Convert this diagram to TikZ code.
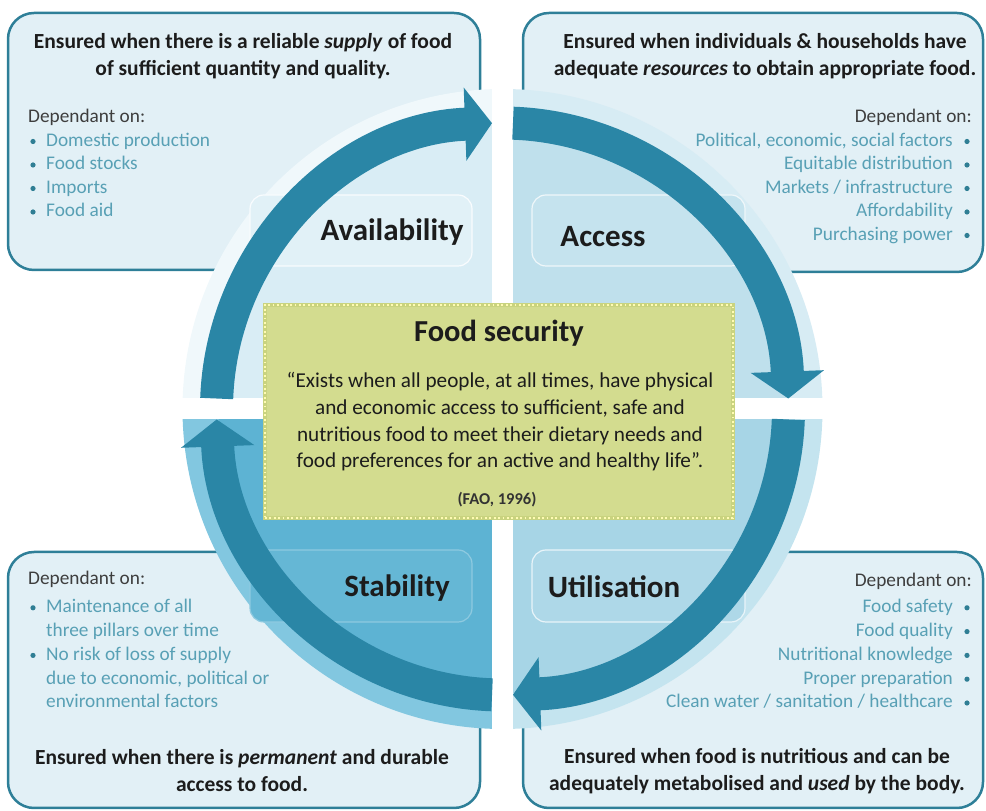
\documentclass[tikz,border=0pt]{standalone}
\usepackage{fontspec}
\setmainfont{Carlito}
\usetikzlibrary{arrows.meta}

\definecolor{boxfill}{HTML}{E2F0F6}
\definecolor{boxline}{HTML}{2E7F98}
\definecolor{ringc}{HTML}{2A86A6}
\definecolor{itemc}{HTML}{58A0B5}
\definecolor{dotc}{HTML}{2F7E94}
\definecolor{txtc}{HTML}{1C1C1C}
\definecolor{quadA}{HTML}{D9EDF5}
\definecolor{haloA}{HTML}{F0F8FB}
\definecolor{quadB}{HTML}{BFE0EC}
\definecolor{haloB}{HTML}{D7ECF4}
\definecolor{quadC}{HTML}{A7D5E6}
\definecolor{haloC}{HTML}{C4E4EF}
\definecolor{quadD}{HTML}{5DB3D3}
\definecolor{haloD}{HTML}{82C7E0}
\definecolor{fsgreen}{HTML}{D3DC8F}
\definecolor{fsedge}{HTML}{C9D37F}

\begin{document}
\begin{tikzpicture}[x=1pt, y=1pt,
  pillarbox/.style={draw=boxline, line width=2.5pt, fill=boxfill, rounded corners=26pt},
  heading/.style={font=\fontsize{21.5}{27}\selectfont\bfseries, text=txtc, align=center},
  dep/.style={font=\fontsize{19.3}{23}\selectfont, text=txtc!85, text height=14pt, text depth=4pt, inner sep=0pt},
  item/.style={font=\fontsize{19.3}{23}\selectfont, text=itemc, text height=14pt, text depth=4pt, inner sep=0pt},
  pillar/.style={font=\fontsize{31}{36}\selectfont\bfseries, text=txtc},
  shaft/.style={draw=ringc, line width=33pt, -{Triangle[length=27pt, width=72pt]}},
  card/.style={rounded corners=14pt, line width=1.2pt},
  fsbox/.style={fill=fsgreen, draw=fsedge, line width=4.5pt, minimum width=468pt, minimum height=213pt,
    postaction={draw=white!70!yellow, line width=2.2pt, dash pattern=on 1.8pt off 2.6pt}}]
  \useasboundingbox (0,0) rectangle (986,811);
  \coordinate (c) at (502.5,402);

  \draw[pillarbox] (8,541) rectangle (480,798);
  \draw[pillarbox] (523,539) rectangle (983,798);
  \draw[pillarbox] (8,3) rectangle (480,259);
  \draw[pillarbox] (523,3) rectangle (983,259);

  \foreach \a/\h/\q in {90/haloA/quadA, 0/haloB/quadB, -90/haloC/quadC, 180/haloD/quadD} {
    \fill[\h] (c) -- ++(\a:320) arc[start angle=\a, end angle=\a+90, radius=320] -- cycle;
    \fill[\q] (c) -- ++(\a:284) arc[start angle=\a, end angle=\a+90, radius=284] -- cycle;
  }
  \draw[card, fill=quadA!80!white, draw=white!85!quadA] (250,545) rectangle (472,616);
  \draw[card, fill=quadB!90!white, draw=white!75!quadB] (532,545) rectangle (745,616);
  \draw[card, fill=quadD!95!white, draw=quadD!70!white] (250,189) rectangle (472,261);
  \draw[card, fill=quadC!92!white, draw=white!75!quadC] (532,189) rectangle (745,261);

  \fill[white] (492,72) rectangle (513,732);
  \fill[white] (172.5,391.5) rectangle (832.5,412.5);

  \foreach \s in {177.9, 87.9, -2.1, -92.1}
    \draw[shaft] ([shift={(\s:286)}]c) arc[start angle=\s, end angle=\s-85.8, radius=286];

  \node[pillar] (avail) at (392,579) {Availability};
  \node[pillar] (access) at (603,574) {Access};
  \node[pillar] (stab) at (397,223) {Stability};
  \node[pillar] (util) at (614,224) {Utilisation};

  \node[fsbox] (fs) at (499,399.5) {};
  \node[font=\fontsize{30.5}{34}\selectfont\bfseries, text=txtc] (fstitle) at (499,478) {Food security};
  \node[font=\fontsize{21.2}{26.7}\selectfont, text=txtc, align=center] (fsdef) at (500,389)
    {“Exists when all people, at all times, have physical\\and economic access to sufficient, safe and\\nutritious food to meet their dietary needs and\\food preferences for an active and healthy life”.};
  \node[font=\fontsize{16.5}{18}\selectfont\bfseries, text=txtc!90] (fao) at (497,311) {(FAO, 1996)};

  \node[heading] (tlhead) at (243,754.5) {Ensured when there is a reliable \textit{supply} of food\\of sufficient quantity and quality.};
  \node[dep, anchor=west] (tldep) at (28,693) {Dependant on:};
  \foreach \t [count=\i] in {Domestic production, Food stocks, Imports, Food aid} {
    \node[item, anchor=west] (tl\i) at (46,693-23.5*\i) {\t};
    \fill[dotc] ([xshift=-13pt]tl\i.west) circle (2.6);
  }

  \node[heading] (trhead) at (765,754.5) {Ensured when individuals \& households have\\adequate \textit{resources} to obtain appropriate food.};
  \node[dep, anchor=east] (trdep) at (972,693) {Dependant on:};
  \foreach \t [count=\i] in {{Political, economic, social factors}, Equitable distribution, Markets / infrastructure, Affordability, Purchasing power} {
    \node[item, anchor=east] (tr\i) at (953,693-23.5*\i) {\t};
    \fill[dotc] ([xshift=14pt]tr\i.east) circle (2.6);
  }

  \node[dep, anchor=west] (bldep) at (28,231) {Dependant on:};
  \foreach \t/\d [count=\i] in {Maintenance of all/1, three pillars over time/0, No risk of loss of supply/1, {due to economic, political or}/0, environmental factors/0} {
    \node[item, anchor=west] (bl\i) at (46,227-23.8*\i) {\t};
    \ifnum\d=1 \fill[dotc] ([xshift=-13pt]bl\i.west) circle (2.6); \fi
  }
  \node[heading] (blhead) at (242,40) {Ensured when there is \textit{permanent} and durable\\access to food.};

  \node[dep, anchor=east] (brdep) at (972,229) {Dependant on:};
  \foreach \t [count=\i] in {Food safety, Food quality, Nutritional knowledge, Proper preparation, Clean water / sanitation / healthcare} {
    \node[item, anchor=east] (br\i) at (953,227-23.8*\i) {\t};
    \fill[dotc] ([xshift=14pt]br\i.east) circle (2.6);
  }
  \node[heading] (brhead) at (757,40) {Ensured when food is nutritious and can be\\adequately metabolised and \textit{used} by the body.};
\end{tikzpicture}
\end{document}
